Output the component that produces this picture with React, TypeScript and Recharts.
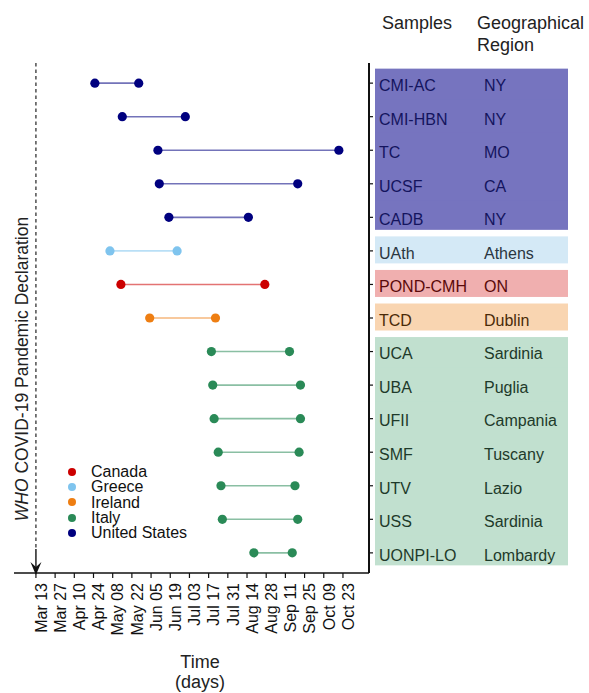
import { ComposedChart, Legend, ReferenceLine, Scatter, XAxis, YAxis } from "recharts";

// one row per sample cohort, top to bottom
const samples = [
  "CMI-AC", "CMI-HBN", "TC", "UCSF", "CADB", "UAth", "POND-CMH", "TCD",
  "UCA", "UBA", "UFII", "SMF", "UTV", "USS", "UONPI-LO",
];
const regions = [
  "NY", "NY", "MO", "CA", "NY", "Athens", "ON", "Dublin",
  "Sardinia", "Puglia", "Campania", "Tuscany", "Lazio", "Sardinia", "Lombardy",
];
const rowCountries = [
  "United States", "United States", "United States", "United States", "United States",
  "Greece", "Canada", "Ireland",
  "Italy", "Italy", "Italy", "Italy", "Italy", "Italy", "Italy",
];
const startDates = [
  "2020-04-25", "2020-05-15", "2020-06-10", "2020-06-11", "2020-06-18",
  "2020-05-06", "2020-05-14", "2020-06-04",
  "2020-07-19", "2020-07-20", "2020-07-21", "2020-07-24", "2020-07-26", "2020-07-27", "2020-08-19",
];
const endDates = [
  "2020-05-27", "2020-06-30", "2020-10-20", "2020-09-20", "2020-08-15",
  "2020-06-24", "2020-08-27", "2020-07-22",
  "2020-09-14", "2020-09-22", "2020-09-22", "2020-09-21", "2020-09-18", "2020-09-20", "2020-09-16",
];

const countries = ["Canada", "Greece", "Ireland", "Italy", "United States"];
const countryColors = ["#CC0000", "#7FC4EE", "#EE7E12", "#2A8A57", "#00007F"];
const panelFills = ["#F0AFAF", "#D4E9F6", "#F9D5B1", "#C1E0CF", "#7674BF"];
const panelText = ["#5A0A0A", "#2A3640", "#4A2A08", "#1E3A2A", "#14145E"];

const tickDates = [
  "2020-03-13", "2020-03-27", "2020-04-10", "2020-04-24", "2020-05-08", "2020-05-22",
  "2020-06-05", "2020-06-19", "2020-07-03", "2020-07-17", "2020-07-31", "2020-08-14",
  "2020-08-28", "2020-09-11", "2020-09-25", "2020-10-09", "2020-10-23",
];
const tickLabels = [
  "Mar 13", "Mar 27", "Apr 10", "Apr 24", "May 08", "May 22", "Jun 05", "Jun 19",
  "Jul 03", "Jul 17", "Jul 31", "Aug 14", "Aug 28", "Sep 11", "Sep 25", "Oct 09", "Oct 23",
];
const declarationDate = "2020-03-13";

const FONT = '"Liberation Sans", Arial, sans-serif';
const W = 589;
const H = 693;
const TOP = 63;
const X_AXIS_H = 120;
const ROW_H = (H - TOP - X_AXIS_H) / 15.2;

const dayOf = (iso: string) =>
  (Date.parse(iso + "T00:00:00Z") - Date.parse(declarationDate + "T00:00:00Z")) / 86400000;

const tickDays = tickDates.map(dayOf);
const rowIdx = samples.map((_, i) => i);
const colorOf = (c: string) => countryColors[countries.indexOf(c)];

const rows = samples.map((s, i) => ({
  name: s,
  color: colorOf(rowCountries[i]),
  data: [
    { x: dayOf(startDates[i]), y: i },
    { x: dayOf(endDates[i]), y: i },
  ],
}));

function DateTick({ x, y, payload }: any) {
  const label = tickLabels[tickDays.indexOf(payload.value)];
  return (
    <text
      transform={`translate(${x},${y}) rotate(-90)`}
      textAnchor="end"
      dy="0.67em"
      fontSize={16}
      fill="#111"
    >
      {label}
    </text>
  );
}

function RowTick({ x, y, payload }: any) {
  const i = payload.value as number;
  const k = countries.indexOf(rowCountries[i]);
  const first = i === 0 || rowCountries[i - 1] !== rowCountries[i];
  const last = i === samples.length - 1 || rowCountries[i + 1] !== rowCountries[i];
  const top = first ? y - 14.5 : y - ROW_H / 2 - 0.5;
  const bottom = last ? y + 12.5 : y + ROW_H / 2 + 0.5;
  return (
    <g>
      <rect x={x} y={top} width={193} height={bottom - top} fill={panelFills[k]} />
      <text x={x + 4} y={y} dy="0.49em" fontSize={16} fill={panelText[k]}>
        {samples[i]}
      </text>
      <text x={x + 109} y={y} dy="0.49em" fontSize={16} fill={panelText[k]}>
        {regions[i]}
      </text>
    </g>
  );
}

function ArrowLine(props: any) {
  const { x1, y1, y2 } = props;
  const top = Math.min(y1, y2);
  const bottom = Math.max(y1, y2);
  return (
    <g>
      <line x1={x1} x2={x1} y1={top} y2={bottom - 24} stroke="#222" strokeWidth={1.2} strokeDasharray="3.5 3" />
      <line x1={x1} x2={x1} y1={bottom - 24} y2={bottom} stroke="#111" strokeWidth={1.4} />
      <path
        d={`M${x1},${bottom + 2} L${x1 - 5.5},${bottom - 11} L${x1},${bottom - 6} L${x1 + 5.5},${bottom - 11} Z`}
        fill="#111"
      />
    </g>
  );
}

function CountryLegend() {
  return (
    <div style={{ fontFamily: FONT, fontSize: 16, color: "#111" }}>
      {countries.map((c, i) => (
        <div key={c} style={{ display: "flex", alignItems: "center", height: 15.3, lineHeight: "15.3px" }}>
          <span
            style={{
              display: "inline-block",
              width: 8,
              height: 8,
              borderRadius: "50%",
              background: countryColors[i],
              marginRight: 15,
            }}
          />
          {c}
        </div>
      ))}
    </div>
  );
}

export default function App() {
  return (
    <div style={{ position: "absolute", left: 0, top: 0, width: W, height: H, background: "#fff", fontFamily: FONT }}>
      <ComposedChart width={W} height={H} margin={{ top: TOP, right: 0, bottom: 0, left: 14 }} style={{ fontFamily: FONT }}>
        <XAxis
          type="number"
          dataKey="x"
          domain={[-16, 243]}
          ticks={tickDays}
          interval={0}
          allowDataOverflow
          height={X_AXIS_H}
          tickSize={5}
          tickMargin={5}
          axisLine={{ stroke: "#111", strokeWidth: 1.6 }}
          tickLine={{ stroke: "#111", strokeWidth: 1.2 }}
          tick={DateTick}
        />
        <YAxis
          type="number"
          dataKey="y"
          orientation="right"
          reversed
          domain={[-0.6, 14.6]}
          ticks={rowIdx}
          interval={0}
          allowDataOverflow
          width={W - 369}
          tickSize={4}
          tickMargin={2}
          axisLine={{ stroke: "#111", strokeWidth: 2 }}
          tickLine={{ stroke: "#111", strokeWidth: 1.2 }}
          tick={RowTick}
        />
        <ReferenceLine x={dayOf(declarationDate)} ifOverflow="visible" shape={ArrowLine} />
        {rows.map((r) => (
          <Scatter
            key={r.name}
            name={r.name}
            data={r.data}
            fill={r.color}
            isAnimationActive={false}
            line={{ stroke: r.color, strokeWidth: 1.6, strokeOpacity: 0.55 }}
            shape={(p: any) => <circle cx={p.cx} cy={p.cy} r={4.6} fill={r.color} />}
          />
        ))}
        <Legend
          layout="vertical"
          align="center"
          verticalAlign="middle"
          wrapperStyle={{ left: 68, top: 464, width: 150 }}
          content={() => <CountryLegend />}
        />
        <text x={382} y={29} fontSize={18} fill="#222">Samples</text>
        <text x={477} y={29} fontSize={18} fill="#222">Geographical</text>
        <text x={477} y={51} fontSize={18} fill="#222">Region</text>
        <text transform="translate(27.5,369) rotate(-90)" textAnchor="middle" fontSize={17.5} fill="#222">
          <tspan fontStyle="italic">WHO</tspan> COVID-19 Pandemic Declaration
        </text>
        <text x={200} y={668} textAnchor="middle" fontSize={18} fill="#222">Time</text>
        <text x={200} y={688} textAnchor="middle" fontSize={18} fill="#222">(days)</text>
      </ComposedChart>
    </div>
  );
}
